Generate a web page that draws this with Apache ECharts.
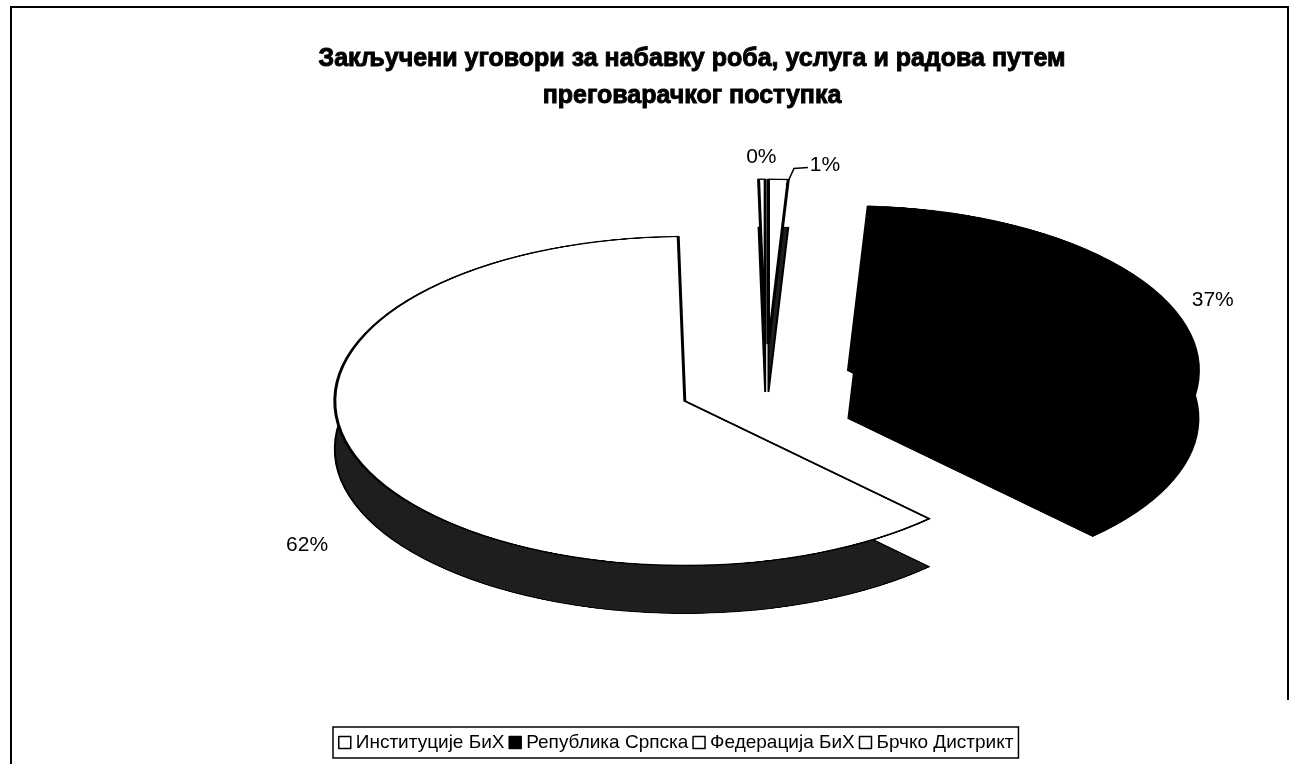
<!DOCTYPE html>
<html>
<head>
<meta charset="utf-8">
<script src="https://cdn.jsdelivr.net/npm/echarts@6/dist/echarts.min.js"></script>
<style>
  body { margin: 0; background: #fff; overflow: hidden; }
  #wrap { position: relative; width: 1292px; height: 764px; }
  /* pie is drawn round and squashed here to get the tilted look */
  #pie { position: absolute; left: 0; top: 0; width: 1292px; height: 1500px; transform: scaleY(0.47); transform-origin: 0 0; }
  #main { position: absolute; left: 0; top: 0; width: 1292px; height: 764px; }
</style>
</head>
<body>
<div id="wrap">
  <div id="pie"></div>
  <div id="main"></div>
</div>
<script>
const categories = ['Институције БиХ', 'Република Српска', 'Федерација БиХ', 'Брчко Дистрикт']
const values = [0.9, 36.8, 62.0, 0.3]
const topColors = ['#ffffff', '#000000', '#ffffff', '#ffffff']
const sideColors = ['#1e1e1e', '#000000', '#1e1e1e', '#1e1e1e']
// nudges for the percent labels (px)
const labelShift = [[45, 12], [-15, -4], [-4, 23], [0, 4]]

const FONT = 'Liberation Sans'
const S = 0.47 // vertical squash of the pie
const CX = 766, CY = 385, R = 350, OFF = 88, T = 48

// mid angle of every slice, clockwise from 12 o'clock
const total = values.reduce((a, b) => a + b, 0)
const midAngles = []
let acc = 0
values.forEach((v) => {
  midAngles.push(((acc + v / 2) / total) * Math.PI * 2)
  acc += v
})

function pieSeries(colors, cy, borderWidth) {
  return {
    type: 'pie',
    center: [CX, cy / S],
    radius: R,
    startAngle: 90,
    clockwise: true,
    selectedMode: 'multiple',
    selectedOffset: OFF,
    silent: true,
    animation: false,
    emphasis: { disabled: true },
    label: { show: false },
    labelLine: { show: false },
    itemStyle: { borderColor: '#000', borderWidth: borderWidth },
    data: categories.map((name, i) => ({
      name,
      value: values[i],
      selected: true,
      itemStyle: { color: colors[i] },
    })),
  }
}

const pieChart = echarts.init(document.getElementById('pie'))
pieChart.setOption({
  animation: false,
  series: [
    pieSeries(sideColors, CY + T, 2), // side wall
    pieSeries(topColors, CY, 3), // top face
  ],
})

const chart = echarts.init(document.getElementById('main'))
chart.setOption({
  animation: false,
  title: {
    text: 'Закључени уговори за набавку роба, услуга и радова путем\nпреговарачког поступка',
    left: 687,
    top: 36,
    textAlign: 'center',
    textStyle: {
      fontFamily: FONT,
      fontWeight: 'bold',
      fontSize: 25,
      lineHeight: 37,
      color: '#000',
      textBorderColor: '#000',
      textBorderWidth: 0.9,
    },
  },
  legend: {
    left: 333,
    top: 727,
    icon: 'rect',
    itemWidth: 12,
    itemHeight: 12,
    itemGap: 4,
    padding: [6, 5],
    borderColor: '#000',
    borderWidth: 1.5,
    itemStyle: { borderColor: '#000', borderWidth: 1.5 },
    textStyle: { fontFamily: FONT, fontSize: 19, color: '#000' },
  },
  graphic: [
    {
      type: 'polyline',
      shape: { points: [[11, 764], [11, 7], [1288, 7], [1288, 700]] },
      style: { stroke: '#000', lineWidth: 2, fill: null },
    },
  ],
  series: [
    {
      // carries the legend and the percent labels; its own tiny pie sits off screen
      type: 'pie',
      center: [-100, -100],
      radius: 1,
      percentPrecision: 0,
      avoidLabelOverlap: false,
      silent: true,
      animation: false,
      itemStyle: { borderColor: '#000', borderWidth: 1.5 },
      label: { show: true, position: 'outside', formatter: '{d}%', fontFamily: FONT, fontSize: 21, color: '#000' },
      labelLine: { show: false, lineStyle: { color: '#000', width: 1.5 } },
      data: categories.map((name, i) => ({
        name,
        value: values[i],
        itemStyle: { color: topColors[i] },
        labelLine: { show: i === 0 },
      })),
      labelLayout(p) {
        const a = midAngles[p.dataIndex]
        const rl = R + OFF + 55
        let x = CX + rl * Math.sin(a)
        let y = CY - rl * Math.cos(a) * S + (Math.cos(a) < 0 ? T : 0)
        x += labelShift[p.dataIndex][0]
        y += labelShift[p.dataIndex][1]
        const tipX = CX + (R + OFF) * Math.sin(a) + 8
        const tipY = CY - (R + OFF) * Math.cos(a) * S + 6
        return {
          x,
          y,
          align: 'center',
          verticalAlign: 'middle',
          labelLinePoints: [[x - 17, y + 2], [x - 31, y + 3], [tipX, tipY]],
        }
      },
    },
  ],
})
</script>
</body>
</html>
